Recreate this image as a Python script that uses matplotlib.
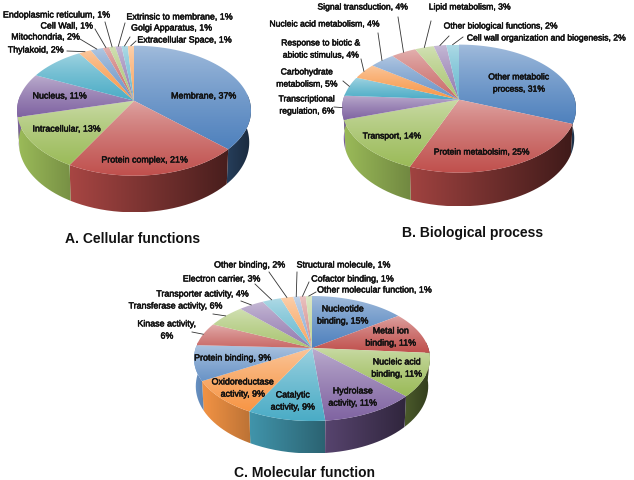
# 3D looking pies, drawn by hand since matplotlib pie has no perspective
import numpy as np
import matplotlib
matplotlib.use("Agg")
import matplotlib.pyplot as plt
from matplotlib.path import Path
from matplotlib.patches import PathPatch
import matplotlib.patheffects as pe

plt.rcParams['font.family'] = ['Liberation Sans', 'DejaVu Sans']

# slices go clockwise from 12 o'clock
cell_names = ["Membrane, 37%", "Protein complex, 21%", "Intracellular, 13%", "Nucleus, 11%", "",
              "Thylakoid, 2%", "Mitochondria, 2%", "Cell Wall, 1%", "Endoplasmic reticulum, 1%",
              "Extrinsic to membrane, 1%", "Golgi Apparatus, 1%", "Extracellular Space, 1%"]
cell_values = [37, 21, 13, 11, 9, 2, 2, 1, 1, 1, 1, 1]

bio_names = ["Other metabolic\nprocess, 31%", "Protein metabolsim, 25%", "Transport, 14%",
             "Transcriptional\nregulation, 6%", "Carbohydrate\nmetabolism, 5%",
             "Response to biotic &\nabiotic stimulus, 4%", "Nucleic acid metabolism, 4%",
             "Signal transduction, 4%", "Lipid metabolism, 3%",
             "Other biological functions, 2%", "Cell wall organization and biogenesis, 2%"]
bio_values = [31, 25, 14, 6, 5, 4, 4, 4, 3, 2, 2]

mol_names = ["Nucleotide\nbinding, 15%", "Metal ion\nbinding, 11%", "Nucleic acid\nbinding, 11%",
             "Hydrolase\nactivity, 11%", "Catalytic\nactivity, 9%", "Oxidoreductase\nactivity, 9%",
             "Protein binding, 9%", "Kinase activity,\n6%", "Transferase activity, 6%",
             "Transporter activity, 4%", "Electron carrier, 3%", "Other binding, 2%",
             "Structural molecule, 1%", "Cofactor binding, 1%", "Other molecular function, 1%"]
mol_values = [15, 11, 11, 11, 9, 9, 9, 6, 6, 4, 3, 2, 1, 1, 1]

palette = ["#4F81BD", "#C0504D", "#9BBB59", "#8064A2", "#4BACC6", "#F79646"]

# label centres in pixels, None = nothing to write
cell_label_xy = [(204, 97), (145, 161), (67, 130), (60, 97), None, (36, 51), (46, 38), (67, 27),
                 (57, 16), (180, 18), (172, 29), (185, 41)]
bio_label_xy = [(519, 84), (482, 153), (392, 137), (307, 106), (307, 79), (321, 50), (325, 25),
                (363, 8), (470, 8), (501, 27), (547, 39)]
mol_label_xy = [(343, 316), (391, 338), (397, 369), (353, 398), (293, 402), (243, 389), (233, 359),
                (167, 331), (176, 307), (203, 295), (222, 280), (250, 266), (344, 266), (353, 280),
                (375, 291)]

# where the leader lines start, the other end is found from the slice
cell_lead = {5: (67, 52), 6: (80, 40), 7: (95, 30), 8: (105, 23), 9: (125, 24), 10: (130, 38), 11: (136, 42)}
bio_lead = {3: (334, 108), 4: (343, 82), 5: (361, 60), 6: (378, 34), 7: (398, 18), 8: (431, 22),
            9: (449, 37), 10: (463, 38)}
mol_lead = {7: (192, 333), 8: (213, 315), 9: (241, 302), 10: (255, 285), 11: (269, 273), 12: (297, 273),
            13: (309, 283), 14: (316, 293)}


def tone(hexcol, white):
    c = np.array(matplotlib.colors.to_rgb(hexcol))
    return c + (1 - c) * white


def rim(th, cx, cy, a, b, k):
    # circle seen in perspective, the centre stays the point the slices meet at
    s = np.sin(th)
    c = np.cos(th)
    return cx + a * c / (1 + k * s), cy - b * s / (1 + k * s)


def grad_fill(ax, xs, ys, img, z):
    pts = np.column_stack([xs, ys])
    pth = Path(np.vstack([pts, pts[0]]))
    ext = (xs.min(), xs.max(), ys.max(), ys.min())
    im = ax.imshow(img, extent=ext, origin="upper", aspect="auto", zorder=z, interpolation="bilinear")
    patch = PathPatch(pth, transform=ax.transData, fc="none", ec="none")
    ax.add_patch(patch)
    im.set_clip_path(patch)


def pie3d(ax, values, names, label_xy, lead, cx, cy, rx, up, down, depth, size):
    k = (down - up) / (down + up)
    b = up * (1 + k)
    a = rx * np.sqrt(1 - k * k)
    vals = np.array(values, dtype=float)
    edges = np.pi / 2 - 2 * np.pi * np.concatenate([[0], np.cumsum(vals)]) / vals.sum()
    for i in range(len(vals)):
        base = tone(palette[i % 6], [0, 0.15, 0.35][i // 6])
        th = np.linspace(edges[i], edges[i + 1], 80)
        xs, ys = rim(th, cx, cy, a, b, k)

        # side wall, only the part facing us. bottom edge a bit narrower, it is further away
        front = np.sin(th) < 0.1
        if front.any():
            fx, fy = xs[front], ys[front]
            d = depth / (1 + k * np.sin(th[front]))
            px = np.concatenate([fx, (cx + (fx - cx) * 0.985)[::-1]])
            py = np.concatenate([fy, (fy + d)[::-1]])
            cols = np.linspace(px.min(), px.max(), 64)
            shade = 1.0 - 0.58 * (cols - (cx - rx)) / (2 * rx)
            shade = shade - 0.10 * (cols - cols[0]) / max(cols[-1] - cols[0], 1)
            img = (base[None, :] * shade[:, None])[None, :, :]
            grad_fill(ax, px, py, np.clip(img, 0, 1), 2)

        # top face, pale at its upper edge
        px = np.concatenate([[cx], xs])
        py = np.concatenate([[cy], ys])
        t = np.linspace(0, 1, 64)[:, None] ** 0.8
        pale = base + (1 - base) * 0.48
        img = (pale * (1 - t) + base * t)[:, None, :]
        grad_fill(ax, px, py, img, 3)

        if label_xy[i] is None:
            continue
        ax.text(label_xy[i][0], label_xy[i][1], names[i], ha="center", va="center", fontsize=size,
                color="#111111", linespacing=1.45, zorder=5,
                path_effects=[pe.withStroke(linewidth=0.35, foreground="#111111")])
        if i in lead:
            mx, my = rim((edges[i] + edges[i + 1]) / 2, cx, cy, a, b, k)
            ax.plot([lead[i][0], mx], [lead[i][1], my], color="#333333", lw=0.6, zorder=4)


fig = plt.figure(figsize=(6.34, 4.81), dpi=100)
ax = fig.add_axes([0, 0, 1, 1])

pie3d(ax, cell_values, cell_names, cell_label_xy, cell_lead, 134, 101.7, 117, 55, 75, 31, 6.4)
pie3d(ax, bio_values, bio_names, bio_label_xy, bio_lead, 459, 100.6, 117, 55, 73, 29, 6.2)
pie3d(ax, mol_values, mol_names, mol_label_xy, mol_lead, 312, 349, 118, 52, 73, 27, 6.4)

title_font = dict(ha="center", va="center", fontsize=10, fontweight="bold", color="#111111")
ax.text(133, 239, "A. Cellular functions", **title_font)
ax.text(473, 233, "B. Biological process", **title_font)
ax.text(304, 473, "C. Molecular function", **title_font)

ax.set_xlim(0, 634)
ax.set_ylim(481, 0)
ax.axis("off")
fig.savefig("out.png", dpi=100)
